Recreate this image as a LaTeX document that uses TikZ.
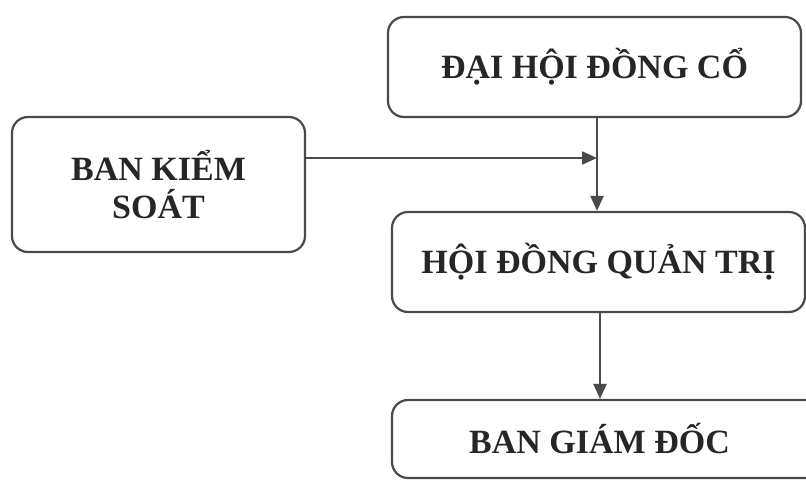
\documentclass[tikz,border=0pt]{standalone}
\usepackage{fontspec}
\setmainfont{Liberation Serif}
\usetikzlibrary{arrows.meta}
\definecolor{linegray}{HTML}{4A4A4A}
\definecolor{textgray}{HTML}{262626}
\tikzset{
  orgbox/.style={draw=linegray, line width=2.2pt, rounded corners=16pt, fill=white,
    text=textgray, font=\fontsize{34}{38}\selectfont\bfseries, align=center, inner sep=0pt},
  arr/.style={draw=linegray, line width=2.2pt, -{Triangle[length=15pt,width=13pt]}}
}
\begin{document}
\begin{tikzpicture}[x=1pt,y=-1pt]
\useasboundingbox (0,0) rectangle (806,487);
\node[orgbox, minimum width=413pt, minimum height=100pt] (dhdc) at (594.5,67) {ĐẠI HỘI ĐỒNG CỔ};
\node[orgbox, minimum width=293pt, minimum height=135pt] (bks) at (158.5,184.5) {BAN KIỂM\\SOÁT};
\node[orgbox, minimum width=413pt, minimum height=100pt] (hdqt) at (598.5,262) {HỘI ĐỒNG QUẢN TRỊ};
\node[orgbox, minimum width=430pt, minimum height=78pt] (bgd) at (607,439) {\hspace*{-15pt}BAN GIÁM ĐỐC};
\coordinate (j1) at (597,158);
\coordinate (j2) at (600,0);
\draw[arr] (dhdc.south -| j1) -- (hdqt.north -| j1);
\draw[arr] (bks.east |- j1) -- (j1);
\draw[arr] (hdqt.south -| j2) -- (bgd.north -| j2);
\end{tikzpicture}
\end{document}
